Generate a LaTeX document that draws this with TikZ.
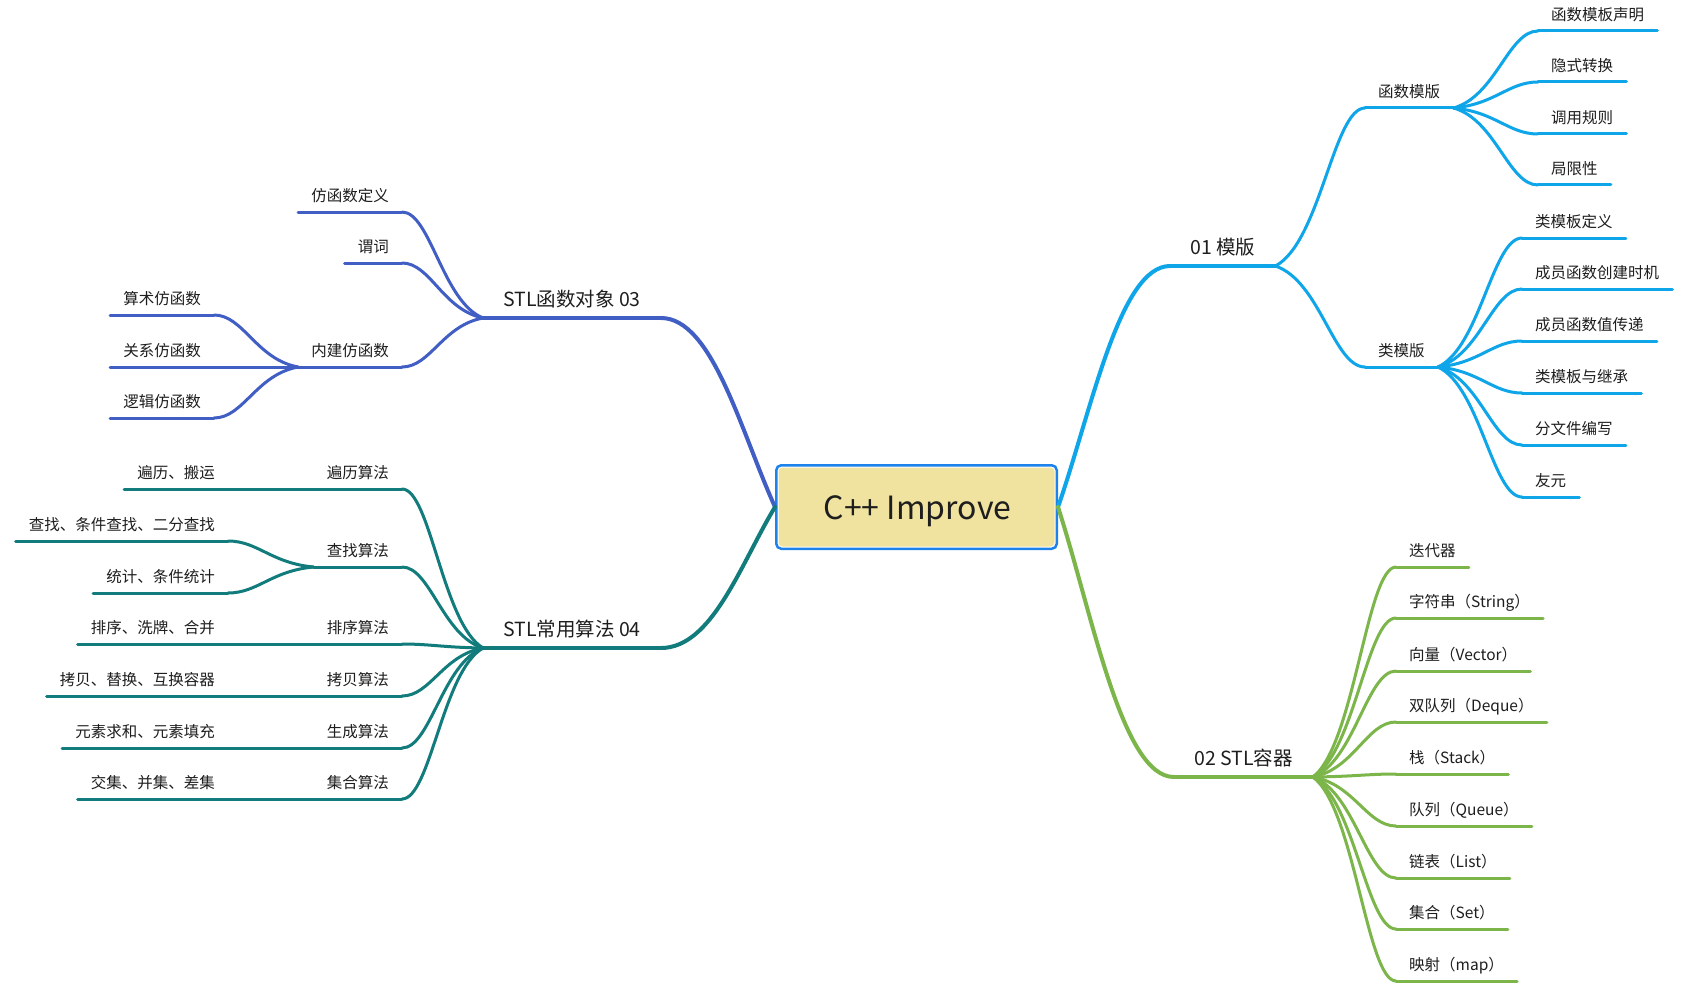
\documentclass[tikz,border=0pt]{standalone}
\usepackage{fontspec}
\setmainfont{Noto Sans CJK SC}
\usetikzlibrary{calc}
\definecolor{cblue}{RGB}{14,165,233}
\definecolor{cgreen}{RGB}{124,182,74}
\definecolor{cindigo}{RGB}{64,94,196}
\definecolor{cteal}{RGB}{18,124,124}
\definecolor{boxblue}{RGB}{30,130,235}
\definecolor{boxfill}{RGB}{240,227,160}
\definecolor{txt}{RGB}{30,30,30}
% mind-map connectors: #4,#5 = first control (fractions), #6 = second control x fraction
\newcommand\mmcurve[6]{\path (#2) coordinate (mmA) (#3) coordinate (mmB);
  \draw[#1] let \p1=(mmA), \p2=(mmB) in (\p1) .. controls ({\x1+#4*(\x2-\x1)},{\y1+#5*(\y2-\y1)}) and ({\x1+#6*(\x2-\x1)},{\y2}) .. (\p2);}
% from the root box: steep start
\newcommand\mmconn[3]{\mmcurve{#1}{#2}{#3}{0.3}{0.4}{0.55}}
% fan from a branch junction: flatter start
\newcommand\mmfan[3]{\mmcurve{#1}{#2}{#3}{0.5}{0.15}{0.65}}
\tikzset{
  leaf/.style={font=\fontsize{15.5}{18}\selectfont, text=txt, inner xsep=13pt, inner ysep=0pt, text height=12pt, text depth=10pt},
  mainb/.style={font=\fontsize{19.5}{23}\selectfont, text=txt, inner xsep=20pt, inner ysep=0pt, text height=15pt, text depth=11pt},
  mline/.style={line width=4pt, line cap=round},
  sline/.style={line width=3pt, line cap=round},
}
\begin{document}
\begin{tikzpicture}[x=1pt,y=-1pt]
\fill[white] (0,0) rectangle (1699,995);
\useasboundingbox (0,0) rectangle (1699,995);

% ---------- root ----------
\node[draw=boxblue, line width=2.5pt, fill=white, rounded corners=5pt, minimum width=280.5pt, minimum height=83.5pt, inner sep=0pt] (root) at (916.5,507) {};
\fill[boxfill, rounded corners=4pt] ([shift={(3.5pt,-3.5pt)}]root.north west) rectangle ([shift={(-3.5pt,3.5pt)}]root.south east);
\node[font=\fontsize{32}{38}\selectfont, text=txt, inner sep=0pt] (rt) at (917.5,511) {C++ Improve};

% ---------- 01 模版 ----------
\node[mainb, anchor=south west] (m1) at (1170,266) {01 模版};
\node[leaf, anchor=south west] (f) at (1365,108) {函数模版};
\node[leaf, anchor=south west] (c) at (1365,367) {类模版};
\foreach \kk/\yy/\tt in {f1/31/函数模板声明, f2/82/隐式转换, f3/134/调用规则, f4/185/局限性}
  \node[leaf, anchor=south west] (\kk) at (1538,\yy) {\tt};
\foreach \kk/\yy/\tt in {c1/238/类模板定义, c2/289/成员函数创建时机, c3/341/成员函数值传递, c4/393/类模板与继承, c5/445/分文件编写, c6/497/友元}
  \node[leaf, anchor=south west] (\kk) at (1522,\yy) {\tt};

\mmconn{cblue,mline}{root.east}{m1.south west}
\draw[cblue,mline] (m1.south west) -- (m1.south east);
\mmfan{cblue,sline}{m1.south east}{f.south west}
\mmfan{cblue,sline}{m1.south east}{c.south west}
\foreach \kk in {f,c} \draw[cblue,sline] (\kk.south west) -- (\kk.south east);
\foreach \kk in {f1,f2,f3,f4} {
  \mmfan{cblue,sline}{f.south east}{\kk.south west}
  \draw[cblue,sline] (\kk.south west) -- (\kk.south east);
}
\foreach \kk in {c1,c2,c3,c4,c5,c6} {
  \mmfan{cblue,sline}{c.south east}{\kk.south west}
  \draw[cblue,sline] (\kk.south west) -- (\kk.south east);
}

% ---------- 02 STL容器 ----------
\node[mainb, anchor=south west] (m2) at (1174,777) {02 STL容器};
\foreach \kk/\yy/\tt in {g1/567/迭代器, g2/618/字符串（String）, g3/671/向量（Vector）, g4/722/双队列（Deque）, g5/774/栈（Stack）, g6/826/队列（Queue）, g7/878/链表（List）, g8/929/集合（Set）, g9/981/映射（map）}
  \node[leaf, anchor=south west] (\kk) at (1396,\yy) {\tt};
\mmconn{cgreen,mline}{root.east}{m2.south west}
\draw[cgreen,mline] (m2.south west) -- (m2.south east);
\foreach \kk in {g1,g2,g3,g4,g5,g6,g7,g8,g9} {
  \mmfan{cgreen,sline}{m2.south east}{\kk.south west}
  \draw[cgreen,sline] (\kk.south west) -- (\kk.south east);
}

% ---------- STL函数对象 03 ----------
\node[mainb, anchor=south east] (m3) at (661,318) {STL函数对象 03};
\foreach \kk/\yy/\tt in {p1/212/仿函数定义, p2/263/谓词, p3/367/内建仿函数}
  \node[leaf, anchor=south east] (\kk) at (402,\yy) {\tt};
\foreach \kk/\yy/\tt in {q1/315/算术仿函数, q2/367/关系仿函数, q3/418/逻辑仿函数}
  \node[leaf, anchor=south east] (\kk) at (214,\yy) {\tt};
\mmconn{cindigo,mline}{root.west}{m3.south east}
\draw[cindigo,mline] (m3.south west) -- (m3.south east);
\foreach \kk in {p1,p2,p3} {
  \mmfan{cindigo,sline}{m3.south west}{\kk.south east}
  \draw[cindigo,sline] (\kk.south west) -- (\kk.south east);
}
\foreach \kk in {q1,q2,q3} {
  \mmfan{cindigo,sline}{p3.south west}{\kk.south east}
  \draw[cindigo,sline] (\kk.south west) -- (\kk.south east);
}

% ---------- STL常用算法 04 ----------
\node[mainb, anchor=south east] (m4) at (661,648) {STL常用算法 04};
\foreach \kk/\yy/\tt in {a1/489/遍历算法, a2/567/查找算法, a3/644/排序算法, a4/696/拷贝算法, a5/748/生成算法, a6/799/集合算法}
  \node[leaf, anchor=south east] (\kk) at (402,\yy) {\tt};
\foreach \kk/\yy/\tt in {b1/489/遍历、搬运, b2/541/查找、条件查找、二分查找, b3/593/统计、条件统计, b4/644/排序、洗牌、合并, b5/696/拷贝、替换、互换容器, b6/748/元素求和、元素填充, b7/799/交集、并集、差集}
  \node[leaf, anchor=south east] (\kk) at (228,\yy) {\tt};
\mmconn{cteal,mline}{root.west}{m4.south east}
\draw[cteal,mline] (m4.south west) -- (m4.south east);
\foreach \kk in {a1,a2,a3,a4,a5,a6} {
  \mmfan{cteal,sline}{m4.south west}{\kk.south east}
  \draw[cteal,sline] (\kk.south west) -- (\kk.south east);
}
\foreach \pp/\kk in {a1/b1, a2/b2, a2/b3, a3/b4, a4/b5, a5/b6, a6/b7} {
  \mmfan{cteal,sline}{\pp.south west}{\kk.south east}
  \draw[cteal,sline] (\kk.south west) -- (\kk.south east);
}
\end{tikzpicture}
\end{document}
